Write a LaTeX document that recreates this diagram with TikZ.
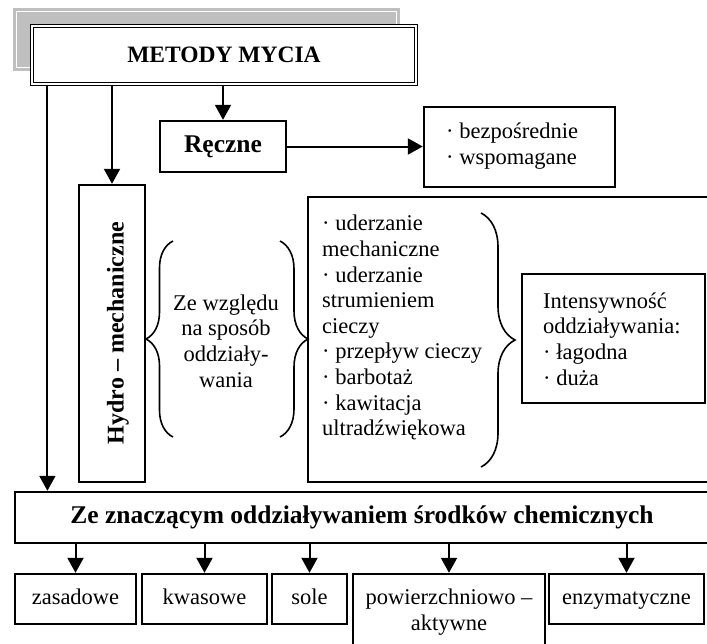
\documentclass[tikz,border=0pt]{standalone}
\usepackage{fontspec}
\setmainfont{Liberation Serif}
\usetikzlibrary{arrows.meta,decorations.pathreplacing}

\tikzset{
  bx/.style={draw,line width=2.4pt,inner sep=0pt},
  arr/.style={line width=2pt,-{Triangle[width=16pt,length=15pt]}},
  txt/.style={inner sep=0pt,font=\fontsize{22.5}{25.6}\selectfont},
  lab/.style={bx,txt,text height=15pt,text depth=5pt,minimum height=50pt},
  brc/.style={line width=1.6pt,decorate},
}

\begin{document}
\begin{tikzpicture}[x=1pt,y=-1pt]
\useasboundingbox (0,0) rectangle (707,643);
\clip (0,0) rectangle (707,643);

% shadow behind the title
\fill[black!25] (13,8) rectangle (400,71);
\draw[white,line width=0.8pt] (16.5,11.5) rectangle (396.5,67.5);

\node[draw,double,double distance=2pt,line width=1.2pt,fill=white,inner sep=0pt,
  minimum width=384pt,minimum height=58pt,font=\fontsize{23.5}{26}\selectfont\bfseries]
  (title) at (224,55) {METODY MYCIA};

\node[bx,minimum width=126pt,minimum height=51pt,font=\fontsize{25.5}{28}\selectfont\bfseries]
  (recz) at (223,146.5) {Ręczne};
\node[bx,minimum width=191pt,minimum height=80pt] (bezp) at (519.5,147) {};
\node[txt,anchor=west,align=left] (bezptxt) at (446,146) {· bezpośrednie\\· wspomagane};

\node[bx,minimum width=66pt,minimum height=297pt] (hydro) at (112,333.5) {};
\node[rotate=90,inner sep=0pt,font=\fontsize{24}{27}\selectfont\bfseries]
  (hydrotxt) at (118,333) {Hydro – mechaniczne};

\draw[brc,decoration={brace,amplitude=27pt}] (173,437) -- (173,241);
\draw[brc,decoration={brace,amplitude=28pt}] (280,241) -- (280,437);
\node[txt,align=center] (sposob) at (226,341) {Ze względu\\na sposób\\oddziały-\\wania};

\node[bx,minimum width=401pt,minimum height=285pt] (mid) at (508.5,339.5) {};
\node[txt,anchor=north west,align=left] (lista) at (322,215)
  {· uderzanie\\mechaniczne\\· uderzanie\\strumieniem\\cieczy\\· przepływ cieczy\\· barbotaż\\· kawitacja\\ultradźwiękowa};
\draw[brc,decoration={brace,amplitude=34pt}] (481,213) -- (481,467);

\node[bx,minimum width=183pt,minimum height=129pt] (inten) at (613.5,338.5) {};
\node[txt,anchor=west,align=left] (intentxt) at (543,339)
  {Intensywność\\oddziaływania:\\· łagodna\\· duża};

\node[bx,minimum width=694pt,minimum height=51pt,font=\fontsize{25.5}{28}\selectfont\bfseries]
  (chem) at (362,517.5) {Ze znaczącym oddziaływaniem środków chemicznych};

\node[lab,minimum width=121pt] (zas) at (75.5,599) {zasadowe};
\node[lab,minimum width=125pt] (kwa) at (204.5,599) {kwasowe};
\node[lab,minimum width=75pt] (sole) at (309.5,599) {sole};
\node[bx,minimum width=192pt,minimum height=86pt] (pow) at (449,617) {};
\node[txt,align=center] (powtxt) at (449,612) {powierzchniowo –\\aktywne};
\node[lab,minimum width=155pt] (enz) at (626.5,599) {enzymatyczne};

\draw[arr] (recz.north |- title.south) -- (recz.north);
\draw[arr] (hydro.north |- title.south) -- (hydro.north);
\draw[arr] ([xshift=16pt]title.south west) -- ([xshift=16pt]title.south west |- chem.north);
\draw[arr] (recz.east) -- (recz.east -| bezp.west);
\foreach \n in {zas,kwa,sole,pow,enz}
  \draw[arr] (\n.north |- chem.south) -- (\n.north);
\end{tikzpicture}
\end{document}
